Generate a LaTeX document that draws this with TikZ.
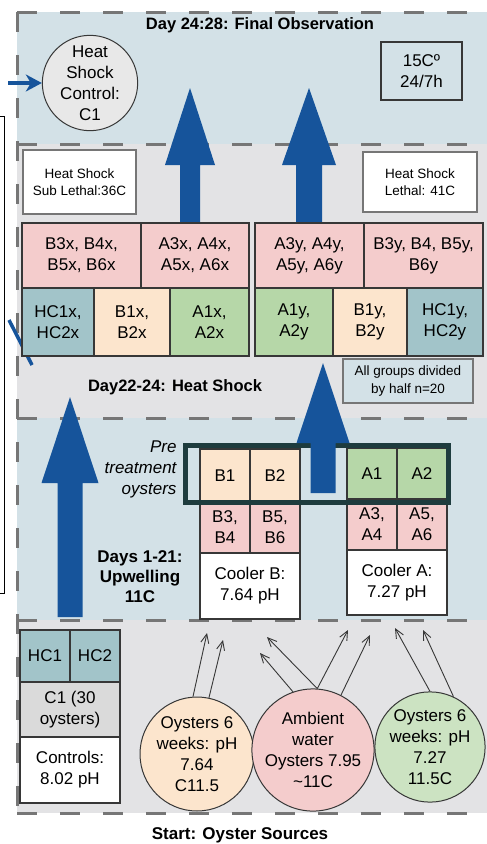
\documentclass[tikz,border=0pt]{standalone}
\usepackage{fontspec}
\setmainfont{Liberation Sans}
\usetikzlibrary{arrows.meta,positioning}
\definecolor{bandblue}{RGB}{211,225,231}
\definecolor{bandgray}{RGB}{227,227,229}
\definecolor{dashgray}{RGB}{118,118,118}
\definecolor{linegray}{RGB}{55,55,55}
\definecolor{pinkcell}{RGB}{244,204,204}
\definecolor{peachcell}{RGB}{252,229,205}
\definecolor{greencell}{RGB}{182,215,168}
\definecolor{tealcell}{RGB}{162,196,201}
\definecolor{ctrlgray}{RGB}{218,218,218}
\definecolor{notegray}{RGB}{232,232,232}
\definecolor{arrowblue}{RGB}{22,84,155}
\definecolor{frameteal}{RGB}{30,60,62}
\newcommand{\cellfont}{\fontsize{17}{21}\selectfont}
\newcommand{\notefont}{\fontsize{13.5}{17.5}\selectfont}
\newcommand{\headfont}{\fontsize{16.5}{18}\selectfont\bfseries}

\begin{document}
\begin{tikzpicture}[x=1pt, y=-1pt,
    cellnode/.style={draw=linegray, line width=1.2pt, inner sep=0pt, align=center, font=\cellfont},
    pinknode/.style={cellnode, fill=pinkcell},
    peachnode/.style={cellnode, fill=peachcell},
    greennode/.style={cellnode, fill=greencell},
    tealnode/.style={cellnode, fill=tealcell},
    whitenode/.style={cellnode, fill=white},
    notenode/.style={cellnode, draw=dashgray, font=\notefont},
    sourcenode/.style={circle, draw=linegray, line width=1pt, inner sep=0pt, align=center, font=\cellfont},
    headlabel/.style={font=\headfont, align=center},
    banddash/.style={dashgray, line width=3pt, dash pattern=on 20pt off 23pt},
    feedarrow/.style={-{Straight Barb[length=9pt,width=8pt]}, draw=linegray, line width=0.9pt}
]
\useasboundingbox (0,0) rectangle (487,844);
\clip (0,0) rectangle (487,844);

% bands
\fill[bandblue] (17,12) rectangle (500,144);
\fill[bandgray] (17,144) rectangle (500,418);
\fill[bandblue] (17,418) rectangle (500,620);
\fill[bandgray] (17,620) rectangle (500,813);
\foreach \by in {12,144,418,620,813}
  \draw[banddash] (17,\by) -- (500,\by);
\draw[banddash] (17,12) -- (17,813);

% black frame and stray line on the left
\draw[black, line width=1pt] (-5,116) -| (4,593) -- (-5,593);
\draw[arrowblue, line width=3.5pt] (9,320) -- (32,365);

% block arrows behind the cells: x/bottom/tip/shaft/head/head length
\foreach \ax/\ab/\at/\sw/\hw/\hl in {190/232/88/10/25/77, 309/232/88/13/27/77}
  \fill[arrowblue] (\ax-\sw,\ab) -- (\ax-\sw,\at+\hl) -- (\ax-\hw,\at+\hl) -- (\ax,\at)
    -- (\ax+\hw,\at+\hl) -- (\ax+\sw,\at+\hl) -- (\ax+\sw,\ab) -- cycle;

% Day 24:28
\node[headlabel] (tfinal) at (260,25) {Day 24:28: Final Observation};
\node[sourcenode, fill=notegray, minimum size=94pt] (hsc) at (90,83) {Heat\\Shock\\Control:\\C1};
\node[cellnode, draw=linegray, minimum width=81pt, minimum height=58pt] (temp) at (421.5,71) {15Cº\\24/7h};
\coordinate (hsin) at (8,83);
\draw[arrowblue, line width=4.5pt, -{Stealth[length=16pt,width=17pt,inset=5pt]}] (hsin) -- (hsc);

% Day22-24
\node[whitenode, draw=dashgray, font=\notefont, minimum width=113pt, minimum height=64pt] (sublethal) at (79.5,182) {Heat Shock\\Sub Lethal:36C};
\node[whitenode, draw=dashgray, font=\notefont, minimum width=114pt, minimum height=60pt] (lethal) at (420,182) {Heat Shock\\Lethal: 41C};

\node[pinknode, minimum width=119pt, minimum height=65pt] (b3x) at (81.5,255.5) {B3x, B4x,\\B5x, B6x};
\node[pinknode, minimum width=108pt, minimum height=65pt] (a3x) at (195,255.5) {A3x, A4x,\\A5x, A6x};
\node[pinknode, minimum width=109pt, minimum height=65pt] (a3y) at (309.5,255.5) {A3y, A4y,\\A5y, A6y};
\node[pinknode, minimum width=119pt, minimum height=65pt] (b3y) at (423.5,255.5) {B3y, B4, B5y,\\B6y};

\node[tealnode, minimum width=72pt, minimum height=68pt] (hc1x) at (58,322) {HC1x,\\HC2x};
\node[peachnode, minimum width=76pt, minimum height=68pt] (b1x) at (132,322) {B1x,\\B2x};
\node[greennode, minimum width=79pt, minimum height=68pt] (a1x) at (209.5,322) {A1x,\\A2x};
\node[greennode, minimum width=78pt, minimum height=68pt] (a1y) at (294,322) {A1y,\\A2y};
\node[peachnode, minimum width=74pt, minimum height=68pt] (b1y) at (370,322) {B1y,\\B2y};
\node[tealnode, minimum width=76pt, minimum height=68pt] (hc1y) at (445,322) {HC1y,\\HC2y};

\node[notenode, fill=bandblue, minimum width=130pt, minimum height=44pt] (halfnote) at (408,381) {All groups divided\\by half n=20};
\node[headlabel] (theat) at (175,387) {Day22-24: Heat Shock};

% Days 1-21
\node[font=\cellfont\itshape, align=right, anchor=east] (pret) at (180,469) {Pre\\treatment\\oysters};
\node[peachnode, minimum width=50pt, minimum height=53pt] (b1) at (225,475.5) {B1};
\node[peachnode, minimum width=50pt, minimum height=53pt] (b2) at (275,475.5) {B2};
\node[greennode, minimum width=50pt, minimum height=51pt] (a1) at (372,473.5) {A1};
\node[greennode, minimum width=50pt, minimum height=51pt] (a2) at (422,473.5) {A2};
\node[pinknode, minimum width=50pt, minimum height=51pt] (b3) at (225,527.5) {B3,\\B4};
\node[pinknode, minimum width=50pt, minimum height=51pt] (b5) at (275,527.5) {B5,\\B6};
\node[pinknode, minimum width=50pt, minimum height=51pt] (a3) at (372,524.5) {A3,\\A4};
\node[pinknode, minimum width=50pt, minimum height=51pt] (a5) at (422,524.5) {A5,\\A6};
\node[whitenode, minimum width=100pt, minimum height=66pt] (coolb) at (250,586) {Cooler B:\\7.64 pH};
\node[whitenode, minimum width=100pt, minimum height=65pt] (coola) at (397,582.5) {Cooler A:\\7.27 pH};
\node[draw=frameteal, line width=5pt, minimum width=263pt, minimum height=57pt, inner sep=0pt] (pretframe) at (316.5,473.5) {};
\node[headlabel, font=\fontsize{17}{20}\selectfont\bfseries] (tupw) at (140,577) {Days 1-21:\\Upwelling\\11C};

% block arrows on top
\foreach \ax/\ab/\at/\sw/\hw/\hl in {323/493/363/12.5/26.5/80, 70/617/397/12.5/28.5/86}
  \fill[arrowblue] (\ax-\sw,\ab) -- (\ax-\sw,\at+\hl) -- (\ax-\hw,\at+\hl) -- (\ax,\at)
    -- (\ax+\hw,\at+\hl) -- (\ax+\sw,\at+\hl) -- (\ax+\sw,\ab) -- cycle;

% Start: oyster sources
\node[tealnode, minimum width=50pt, minimum height=52pt] (hc1) at (45,656) {HC1};
\node[tealnode, minimum width=50pt, minimum height=52pt] (hc2) at (95,656) {HC2};
\node[cellnode, fill=ctrlgray, minimum width=100pt, minimum height=55pt] (c1) at (70,709.5) {C1 (30\\oysters)};
\node[whitenode, minimum width=100pt, minimum height=66pt] (ctrl) at (70,770) {Controls:\\8.02 pH};

\node[sourcenode, fill=peachcell, minimum size=114pt] (srcb) at (197,754) {Oysters 6\\weeks: pH\\7.64\\C11.5};
\node[sourcenode, fill=pinkcell, minimum size=112pt] (srcamb) at (313,750) {Ambient\\water\\Oysters 7.95\\\textasciitilde11C};
\node[sourcenode, fill=greencell!70!white, minimum size=110pt] (srca) at (430,747) {Oysters 6\\weeks: pH\\7.27\\11.5C};

\coordinate (pk1) at (207,633);
\coordinate (pk2) at (223,640);
\coordinate (am1) at (260,653);
\coordinate (am2) at (267,637);
\coordinate (am3) at (348,630);
\coordinate (am4) at (370,635);
\coordinate (gr1) at (395,628);
\coordinate (gr2) at (423,630);
\foreach \s/\e in {srcb.94/pk1, srcb.78/pk2, srcamb.109/am1, srcamb.86/am2, srcamb.86/am3, srcamb.63/am4, srca.90/gr1, srca.65/gr2}
  \draw[feedarrow] (\s) -- (\e);

\node[headlabel, font=\fontsize{17}{18}\selectfont\bfseries] (tstart) at (240,835) {Start: Oyster Sources};
\end{tikzpicture}
\end{document}
